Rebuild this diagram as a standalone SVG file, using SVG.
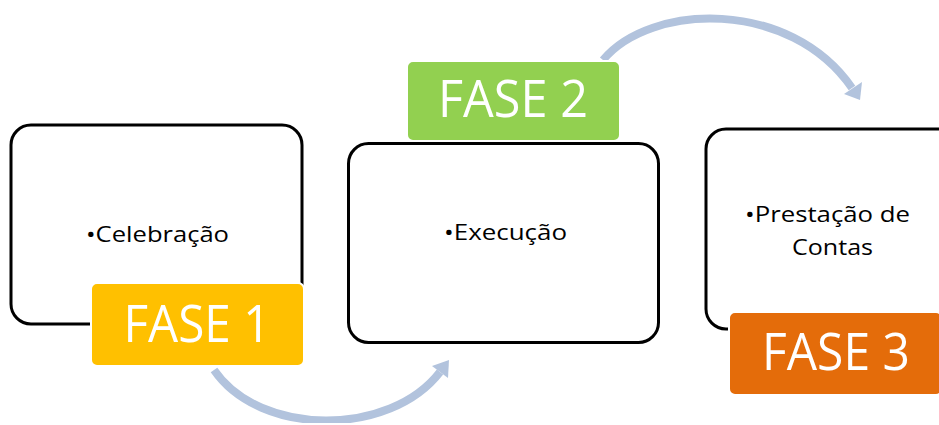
<svg xmlns="http://www.w3.org/2000/svg" width="939" height="425" viewBox="0 0 939 425">
<style>
.box{fill:#fff;stroke:#000;stroke-width:3}
.tag{stroke:#fff;stroke-width:2}
.tagtext{font-family:"Open Sans","Noto Sans","Liberation Sans",sans-serif;font-size:51px;fill:#fff;text-anchor:middle}
.body{font-family:"Open Sans","Noto Sans","Liberation Sans",sans-serif;font-size:22px;fill:#000}
.arc{fill:none;stroke:#B2C3DD;stroke-width:8}
.head{fill:#B2C3DD}
</style>
<defs>
<clipPath id="clip"><rect x="0" y="14" width="939" height="409"/></clipPath>
</defs>
<g id="connectors" clip-path="url(#clip)">
<path class="arc" d="M 214,370 C 260,437 390,437 440,372"/>
<polygon class="head" points="449,360 448,378 432,366"/>
<path class="arc" d="M 603,60 C 650,3 790,-2 852,88"/>
<polygon class="head" points="860,100 862,82 844,94"/>
</g>
<g id="node1">
<rect class="box" x="11" y="125" width="291" height="199" rx="20"/>
<text class="body" x="86" y="242" textLength="143" lengthAdjust="spacingAndGlyphs">•Celebração</text>
</g>
<g id="node2">
<rect class="box" x="348.5" y="143.5" width="310" height="199" rx="20"/>
<text class="body" x="444" y="240" textLength="123" lengthAdjust="spacingAndGlyphs">•Execução</text>
</g>
<g id="node3">
<rect class="box" x="706" y="129" width="260" height="200" rx="20"/>
<text class="body" x="745" y="222" textLength="165" lengthAdjust="spacingAndGlyphs">•Prestação de</text>
<text class="body" x="792" y="255" textLength="81" lengthAdjust="spacingAndGlyphs">Contas</text>
</g>
<g id="fase1">
<rect class="tag" x="91" y="283" width="213" height="83" rx="6" fill="#FFC000"/>
<text class="tagtext" x="197" y="342" textLength="147" lengthAdjust="spacingAndGlyphs">FASE 1</text>
</g>
<g id="fase2">
<rect class="tag" x="407" y="61" width="213" height="80" rx="6" fill="#92D050"/>
<text class="tagtext" x="513" y="117" textLength="150" lengthAdjust="spacingAndGlyphs">FASE 2</text>
</g>
<g id="fase3">
<rect class="tag" x="729" y="312" width="213" height="83" rx="6" fill="#E46C0A"/>
<text class="tagtext" x="836" y="370" textLength="148" lengthAdjust="spacingAndGlyphs">FASE 3</text>
</g>
</svg>
